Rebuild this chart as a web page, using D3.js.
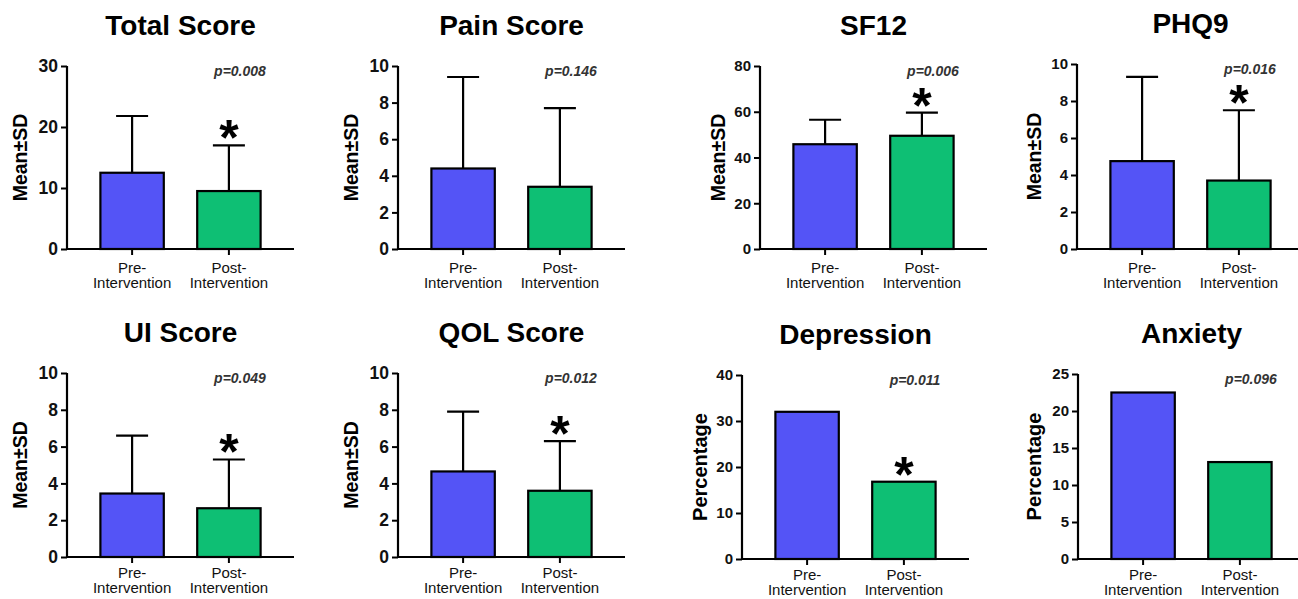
<!DOCTYPE html>
<html>
<head>
<meta charset="utf-8">
<script src="https://cdn.jsdelivr.net/npm/d3@7"></script>
<style>
  body { margin: 0; background: #fff; }
  svg { display: block; font-family: "Liberation Sans", Arial, sans-serif; }
</style>
</head>
<body>
<svg id="chart" width="1298" height="599"></svg>
<script>
// values
const titles = ["Total Score", "Pain Score", "SF12", "PHQ9", "UI Score", "QOL Score", "Depression", "Anxiety"];
const categories = ["Pre-Intervention", "Post-Intervention"];
const preMean = [12.5, 4.4, 45.8, 4.75, 3.45, 4.65, 32, 22.5];
const preSD = [9.3, 5.0, 10.7, 4.55, 3.15, 3.25, null, null];
const postMean = [9.5, 3.4, 49.5, 3.7, 2.65, 3.6, 16.8, 13.1];
const postSD = [7.5, 4.3, 10.1, 3.8, 2.65, 2.7, null, null];
const pValues = ["p=0.008", "p=0.146", "p=0.006", "p=0.016", "p=0.049", "p=0.012", "p=0.011", "p=0.096"];
const significant = [true, false, true, true, true, true, true, false];
const yMax = [30, 10, 80, 10, 10, 10, 40, 25];
const yStep = [10, 2, 20, 2, 2, 2, 10, 5];
const yTitles = ["Mean±SD", "Mean±SD", "Mean±SD", "Mean±SD", "Mean±SD", "Mean±SD", "Percentage", "Percentage"];

// panel layout (axis origin, top, bottom)
const panels = [
  { x0: 67,   top: 66,  bottom: 249, tick: 17.5, labOff: 47 },
  { x0: 398,  top: 66,  bottom: 249, tick: 17.5, labOff: 47 },
  { x0: 760,  top: 66,  bottom: 249, tick: 15,   labOff: 42 },
  { x0: 1077, top: 64,  bottom: 249, tick: 15,   labOff: 43 },
  { x0: 67,   top: 373, bottom: 557, tick: 17.5, labOff: 47 },
  { x0: 398,  top: 373, bottom: 557, tick: 17.5, labOff: 47 },
  { x0: 742,  top: 375, bottom: 559, tick: 15,   labOff: 42 },
  { x0: 1078, top: 374, bottom: 559, tick: 15,   labOff: 44 }
];
const plotW = 227;
const colors = ["#5454F6", "#0EBF74"];

const svg = d3.select("#chart");

panels.forEach((p, i) => {
  const g = svg.append("g");

  const x = d3.scaleBand().domain(categories).range([p.x0, p.x0 + plotW]).padding(0.345);
  const y = d3.scaleLinear().domain([0, yMax[i]]).range([p.bottom, p.top]);

  const rows = [
    { cat: categories[0], mean: preMean[i], sd: preSD[i], color: colors[0] },
    { cat: categories[1], mean: postMean[i], sd: postSD[i], color: colors[1] }
  ];

  // error bars (upper only), drawn behind bars
  rows.filter(d => d.sd != null).forEach(d => {
    const cx = x(d.cat) + x.bandwidth() / 2;
    g.append("line")
      .attr("x1", cx).attr("x2", cx)
      .attr("y1", y(d.mean)).attr("y2", y(d.mean + d.sd))
      .attr("stroke", "#000").attr("stroke-width", 2.2);
    g.append("line")
      .attr("x1", cx - 16).attr("x2", cx + 16)
      .attr("y1", y(d.mean + d.sd)).attr("y2", y(d.mean + d.sd))
      .attr("stroke", "#000").attr("stroke-width", 2.2);
  });

  g.selectAll("rect.bar")
    .data(rows)
    .enter().append("rect")
    .attr("class", "bar")
    .attr("x", d => x(d.cat))
    .attr("y", d => y(d.mean))
    .attr("width", x.bandwidth())
    .attr("height", d => y(0) - y(d.mean))
    .attr("fill", d => d.color)
    .attr("stroke", "#000")
    .attr("stroke-width", 2.2);

  // y axis
  const yAxis = g.append("g")
    .attr("transform", `translate(${p.x0},0)`)
    .call(d3.axisLeft(y).tickValues(d3.range(0, yMax[i] + 0.001, yStep[i])).tickSize(6).tickPadding(3));
  yAxis.select(".domain").attr("stroke", "#000").attr("stroke-width", 2.2).attr("d", `M0,${p.top}V${p.bottom}`);
  yAxis.selectAll(".tick line").attr("stroke", "#000").attr("stroke-width", 2);
  yAxis.selectAll(".tick text")
    .attr("fill", "#111")
    .style("font-size", p.tick + "px")
    .style("font-weight", "bold")
    .style("font-family", "Liberation Sans, Arial, sans-serif");

  // x axis
  const xAxis = g.append("g")
    .attr("transform", `translate(0,${p.bottom})`)
    .call(d3.axisBottom(x).tickSize(6).tickFormat(""));
  xAxis.select(".domain").attr("stroke", "#000").attr("stroke-width", 2.2).attr("d", `M${p.x0},0H${p.x0 + plotW}`);
  xAxis.selectAll(".tick line").attr("stroke", "#000").attr("stroke-width", 2);

  const lab2 = p.bottom > 500 ? 36 : 39;
  categories.forEach(c => {
    const cx = x(c) + x.bandwidth() / 2;
    const parts = c.split("-");
    const t = g.append("text")
      .attr("x", cx)
      .attr("text-anchor", "middle")
      .attr("fill", "#111")
      .style("font-size", "15px");
    t.append("tspan").attr("x", cx).attr("y", p.bottom + lab2 - 15).text(parts[0] + "-");
    t.append("tspan").attr("x", cx).attr("y", p.bottom + lab2).text(parts[1]);
  });

  // y title
  g.append("text")
    .attr("transform", `translate(${p.x0 - p.labOff},${(p.top + p.bottom) / 2}) rotate(-90)`)
    .attr("text-anchor", "middle")
    .attr("dy", "0.35em")
    .attr("fill", "#000")
    .style("font-size", yTitles[i] === "Percentage" ? "20px" : "19.5px")
    .style("font-weight", "bold")
    .text(yTitles[i]);

  // panel title
  g.append("text")
    .attr("x", p.x0 + plotW / 2)
    .attr("y", p.top - 31)
    .attr("text-anchor", "middle")
    .attr("fill", "#000")
    .style("font-size", "28px")
    .style("font-weight", "bold")
    .text(titles[i]);

  // p value
  g.append("text")
    .attr("x", p.x0 + 173)
    .attr("y", p.top + 10)
    .attr("text-anchor", "middle")
    .attr("fill", "#333")
    .style("font-size", "14px")
    .style("font-weight", "bold")
    .style("font-style", "italic")
    .text(pValues[i]);

  // significance star
  if (significant[i]) {
    const d = rows[1];
    const topV = d.mean + (d.sd || 0);
    g.append("text")
      .attr("x", x(d.cat) + x.bandwidth() / 2)
      .attr("y", y(topV) - 19 + 29)
      .attr("text-anchor", "middle")
      .attr("fill", "#000")
      .style("font-size", "50px")
      .style("font-weight", "bold")
      .text("*");
  }
});
</script>
</body>
</html>
